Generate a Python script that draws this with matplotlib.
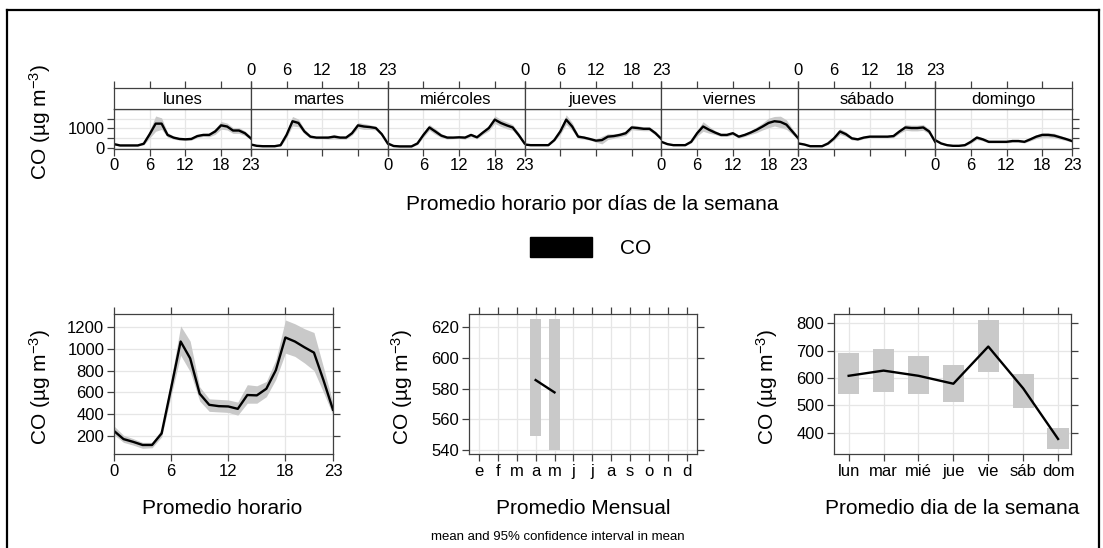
import numpy as np
import matplotlib.pyplot as plt
from matplotlib.lines import Line2D
from matplotlib.patches import Rectangle

plt.rcParams['font.family'] = ['Liberation Sans', 'DejaVu Sans']
plt.rcParams['mathtext.fontset'] = 'custom'
plt.rcParams['mathtext.rm'] = 'Liberation Sans'
plt.rcParams['mathtext.it'] = 'Liberation Sans:italic'

W, H = 1103, 548

# --- data -------------------------------------------------------------------
days = ['lunes', 'martes', 'miércoles', 'jueves', 'viernes', 'sábado', 'domingo']
hours = list(range(24))

# hourly mean per weekday (CO, ug m-3)
week_mean = [
    [180, 110, 110, 110, 110, 200, 700, 1250, 1250, 660, 520, 450, 430, 450, 600, 660, 660, 840, 1160, 1100, 890, 890, 750, 480],
    [160, 90, 70, 70, 70, 125, 660, 1375, 1285, 840, 570, 520, 520, 520, 570, 520, 520, 750, 1160, 1100, 1070, 1020, 700, 215],
    [215, 80, 60, 60, 60, 215, 660, 1050, 840, 625, 520, 520, 535, 520, 660, 535, 785, 1020, 1460, 1285, 1160, 1050, 660, 215],
    [160, 125, 125, 125, 125, 390, 840, 1460, 1100, 570, 520, 445, 360, 390, 570, 600, 660, 750, 1050, 1020, 980, 980, 750, 445],
    [300, 180, 125, 125, 125, 300, 750, 1100, 930, 785, 660, 660, 750, 570, 660, 785, 930, 1100, 1285, 1375, 1340, 1200, 840, 480],
    [215, 160, 70, 70, 70, 215, 480, 840, 700, 480, 430, 520, 570, 570, 570, 570, 600, 840, 1050, 1020, 1020, 1050, 840, 300],
    [390, 215, 125, 90, 90, 125, 300, 520, 430, 300, 300, 300, 300, 340, 340, 300, 430, 570, 660, 660, 625, 535, 445, 340],
]
# half width of the 95% confidence band per weekday
week_ci = [
    [40, 30, 30, 30, 30, 60, 200, 400, 300, 120, 80, 60, 60, 60, 80, 80, 100, 150, 200, 180, 150, 150, 120, 80],
    [40, 30, 30, 30, 30, 60, 150, 250, 200, 120, 80, 60, 60, 80, 120, 80, 80, 100, 150, 150, 120, 100, 80, 60],
    [40, 30, 30, 30, 30, 60, 120, 150, 150, 100, 80, 60, 60, 80, 80, 80, 100, 150, 200, 180, 180, 150, 120, 60],
    [40, 30, 30, 30, 30, 60, 150, 250, 200, 100, 80, 60, 80, 200, 150, 120, 100, 120, 120, 120, 100, 100, 100, 80],
    [50, 30, 30, 30, 30, 60, 150, 250, 180, 100, 80, 80, 80, 80, 80, 100, 150, 180, 250, 250, 300, 250, 150, 80],
    [40, 30, 30, 30, 30, 60, 100, 150, 120, 80, 60, 60, 60, 60, 60, 60, 80, 100, 150, 150, 150, 150, 120, 80],
    [50, 40, 30, 30, 30, 40, 80, 100, 80, 60, 60, 60, 60, 60, 60, 60, 80, 100, 120, 120, 120, 100, 80, 60],
]

hour_mean = [245, 170, 145, 116, 116, 222, 640, 1067, 912, 587, 485, 473, 470, 448, 575, 572, 633, 804, 1104, 1067, 1014, 965, 711, 440]
hour_lo = [210, 140, 115, 85, 90, 190, 570, 940, 790, 520, 425, 420, 415, 390, 500, 500, 560, 720, 960, 930, 870, 800, 600, 390]
hour_hi = [290, 205, 175, 140, 140, 260, 720, 1210, 1070, 650, 540, 535, 530, 510, 670, 660, 700, 900, 1265, 1230, 1185, 1150, 830, 500]

month_labels = ['e', 'f', 'm', 'a', 'm', 'j', 'j', 'a', 's', 'o', 'n', 'd']
month_num = [4, 5]
month_mean = [585.5, 577.5]
month_lo = [549, 540]
month_hi = [625, 625]

wday_labels = ['lun', 'mar', 'mié', 'jue', 'vie', 'sáb', 'dom']
wday_mean = [608, 627, 608, 579, 715, 562, 377]
wday_lo = [540, 548, 540, 511, 623, 490, 340]
wday_hi = [690, 707, 679, 649, 811, 616, 418]

# --- style -------------------------------------------------------------------
band = '#c9c9c9'
gridc = '#e6e6e6'
axc = '#404040'
ylab = 'CO (µg m$^{-3}$)'
tick_fs = 12
lab_fs = 15

fig = plt.figure(figsize=(W / 100, H / 100), dpi=100)


def add_ax(x0, y0, x1, y1):
    """Axes from pixel box (top-left origin)"""
    return fig.add_axes([x0 / W, 1 - y1 / H, (x1 - x0) / W, (y1 - y0) / H])


def style(ax):
    for s in ax.spines.values():
        s.set_color(axc)
        s.set_linewidth(0.9)
    ax.tick_params(direction='out', length=5, width=0.9, color=axc,
                   labelsize=tick_fs, pad=2)
    ax.grid(color=gridc, lw=0.9)
    ax.set_axisbelow(True)


# --- top: hourly by weekday ------------------------------------------------
x0, x1 = 114, 1072
pw = (x1 - x0) / 7
hticks = [0, 6, 12, 18, 23]
for i, day in enumerate(days):
    left = x0 + i * pw
    ax = add_ax(left, 109, left + pw, 148.5)
    style(ax)
    m = np.array(week_mean[i])
    c = np.array(week_ci[i])
    ax.fill_between(hours, m - c, m + c, color=band, lw=0)
    ax.plot(hours, m, color='black', lw=1.7)
    ax.set_xlim(0, 23)
    ax.set_ylim(-50, 2015)
    ax.set_xticks(hticks)
    ax.set_yticks([0, 500, 1000, 1500])
    ax.set_yticklabels(['0', '', '1000', ''])
    ax.tick_params(axis='x', bottom=True, top=False, labelbottom=(i % 2 == 0))
    ax.tick_params(axis='y', left=(i == 0), right=(i == 6),
                   labelleft=(i == 0), labelright=False)

    strip = add_ax(left, 88, left + pw, 109)
    style(strip)
    strip.grid(False)
    strip.set_xlim(0, 23)
    strip.set_xticks(hticks)
    strip.set_yticks([])
    strip.tick_params(axis='x', bottom=False, top=True, labelbottom=False,
                      labeltop=(i % 2 == 1))
    strip.text(0.5, 0.45, day, transform=strip.transAxes, ha='center',
               va='center', fontsize=tick_fs)

fig.text(40 / W, 1 - 122 / H, ylab, rotation=90, ha='center', va='center', fontsize=lab_fs)
fig.text(592 / W, 1 - 205 / H, 'Promedio horario por días de la semana',
         ha='center', va='center', fontsize=lab_fs)

# legend
fig.add_artist(Rectangle((530 / W, 1 - 257 / H), 62 / W, 20 / H,
                         transform=fig.transFigure, color='black'))
fig.text(620 / W, 1 - 248 / H, 'CO', ha='left', va='center', fontsize=lab_fs)

# --- bottom left: hourly ---------------------------------------------------
ax = add_ax(114, 314, 333, 454)
style(ax)
ax.fill_between(hours, hour_lo, hour_hi, color=band, lw=0)
ax.plot(hours, hour_mean, color='black', lw=1.7)
ax.set_xlim(0, 23)
ax.set_ylim(33, 1320)
ax.set_xticks(hticks)
ax.set_yticks([200, 400, 600, 800, 1000, 1200])
ax.tick_params(top=True, right=True)
fig.text(40 / W, 1 - 387 / H, ylab, rotation=90, ha='center', va='center', fontsize=lab_fs)
fig.text(222 / W, 1 - 508 / H, 'Promedio horario', ha='center', va='center', fontsize=lab_fs)

# --- bottom middle: monthly ------------------------------------------------
ax = add_ax(469, 314, 697, 454)
style(ax)
ax.bar(month_num, np.array(month_hi) - np.array(month_lo), bottom=month_lo,
       width=0.58, color=band, lw=0)
ax.plot(month_num, month_mean, color='black', lw=1.7)
ax.set_xlim(0.47, 12.55)
ax.set_ylim(537.4, 628.5)
ax.set_xticks(range(1, 13))
ax.set_xticklabels(month_labels)
ax.set_yticks([540, 560, 580, 600, 620])
ax.tick_params(top=True, right=True)
fig.text(402 / W, 1 - 387 / H, ylab, rotation=90, ha='center', va='center', fontsize=lab_fs)
fig.text(583 / W, 1 - 508 / H, 'Promedio Mensual', ha='center', va='center', fontsize=lab_fs)
fig.text(558 / W, 1 - 537 / H, 'mean and 95% confidence interval in mean',
         ha='center', va='center', fontsize=9.5)

# --- bottom right: weekday -------------------------------------------------
ax = add_ax(834, 314, 1071, 454)
style(ax)
wx = np.arange(1, 8)
ax.bar(wx, np.array(wday_hi) - np.array(wday_lo), bottom=wday_lo,
       width=0.61, color=band, lw=0)
ax.plot(wx, wday_mean, color='black', lw=1.7)
ax.set_xlim(0.58, 7.37)
ax.set_ylim(322, 834)
ax.set_xticks(wx)
ax.set_xticklabels(wday_labels)
ax.set_yticks([400, 500, 600, 700, 800])
ax.tick_params(top=True, right=True)
fig.text(767 / W, 1 - 387 / H, ylab, rotation=90, ha='center', va='center', fontsize=lab_fs)
fig.text(952 / W, 1 - 508 / H, 'Promedio dia de la semana', ha='center', va='center', fontsize=lab_fs)

# --- outer frame -------------------------------------------------------------
for xs, ys in [((7, 1099), (10, 10)), ((7, 7), (10, 548)), ((1099, 1099), (10, 548))]:
    fig.add_artist(Line2D([x / W for x in xs], [1 - y / H for y in ys],
                          transform=fig.transFigure, color='black', lw=1.6))

fig.savefig('out.png', dpi=100)
